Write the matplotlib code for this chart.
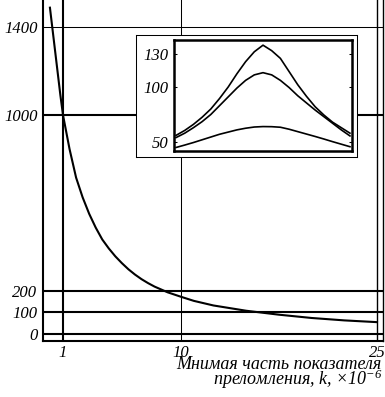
import numpy as np
import matplotlib
matplotlib.use("Agg")
import matplotlib.pyplot as plt

plt.rcParams['font.family'] = ['Liberation Serif', 'DejaVu Serif']
plt.rcParams['font.style'] = 'italic'
plt.rcParams['mathtext.fontset'] = 'custom'
plt.rcParams['mathtext.rm'] = 'Liberation Serif:italic'
plt.rcParams['mathtext.it'] = 'Liberation Serif:italic'

# main curve
k = [0, 0.4, 0.8, 1, 1.5, 2, 2.5, 3, 3.5, 4, 4.5, 5, 5.5, 6, 6.5, 7, 7.5, 8,
     9, 10, 11, 12.5, 15, 17.5, 20, 22.5, 25]
val = [1490, 1290, 1090, 1000, 845, 715, 625, 550, 487, 433, 392, 356, 325,
       297, 273, 252, 234, 218, 192, 172, 153, 132, 108, 90, 75, 64, 56]

xticks = [1, 10, 25]
yticks = [0, 100, 200, 1000, 1400]

# inset curves (21 points across the inset)
ins_x = list(range(21))
ins_top = [56, 60.5, 66, 72.5, 80, 89.5, 100, 112, 123, 132, 138, 133, 126,
           114, 102, 91.5, 82, 74.5, 68, 63, 58]
ins_mid = [54, 58, 63, 68.5, 75, 83, 91, 99, 106, 111, 113, 111, 106, 99.5,
           92, 85.5, 79, 73, 67, 61, 55.5]
ins_bot = [45, 47.2, 49.5, 52, 54.5, 57, 59, 61, 62.5, 63.6, 64, 63.9, 63.4,
           61.6, 59.4, 57.2, 55, 52.7, 50.3, 48, 45.7]
ins_yticks = [50, 100, 130]

xlabel1 = "Мнимая часть показателя"
xlabel2 = "преломления, $k$, ×10$^{-6}$"

fig = plt.figure(figsize=(3.85, 3.97), dpi=100)
ax = fig.add_axes([43/385, 56/397, 340/385, 341/397])
ax.set_xlim(-0.53, 25.46)
ax.set_ylim(-30, 1525)

for y in yticks:
    ax.axhline(y, color='black', lw=0.75 if y == 1400 else 1.5, zorder=1)
for x in xticks:
    ax.axvline(x, color='black', lw=0.75 if x == 10 else (1.5 if x == 1 else 1.0), zorder=1)

ax.plot(k, val, color='black', lw=1.5, zorder=3)

ax.set_xticks(xticks)
ax.set_yticks(yticks)
ax.tick_params(length=0, labelsize=12)
ax.tick_params(axis='y', pad=4)
ax.tick_params(axis='x', pad=3)
ax.spines['top'].set_visible(False)
ax.spines['left'].set_linewidth(1.5)
ax.spines['bottom'].set_linewidth(1.5)
ax.spines['right'].set_linewidth(1.0)

fig.text(381/385, 0.070, xlabel1, ha='right', va='baseline', fontsize=13)
fig.text(383/385, 0.029, xlabel2, ha='right', va='baseline', fontsize=13)

# white box behind the inset
box = fig.add_axes([136/385, 240/397, 221/385, 122/397])
box.set_xticks([])
box.set_yticks([])
for s in box.spines.values():
    s.set_linewidth(0.75)
box.set_facecolor('white')

ins = fig.add_axes([174.3/385, 246/397, 177.4/385, 111/397])
ins.plot(ins_x, ins_top, color='black', lw=1.2)
ins.plot(ins_x, ins_mid, color='black', lw=1.2)
ins.plot(ins_x, ins_bot, color='black', lw=1.2)
ins.set_xlim(-0.2, 20.2)
ins.set_ylim(41.8, 142.7)
ins.set_xticks([])
ins.set_yticks(ins_yticks)
ins.tick_params(axis='y', direction='in', length=2.5, width=0.75, right=True,
                labelsize=12, pad=4)
for s in ins.spines.values():
    s.set_linewidth(1.8)

fig.savefig("out.png", dpi=100)
